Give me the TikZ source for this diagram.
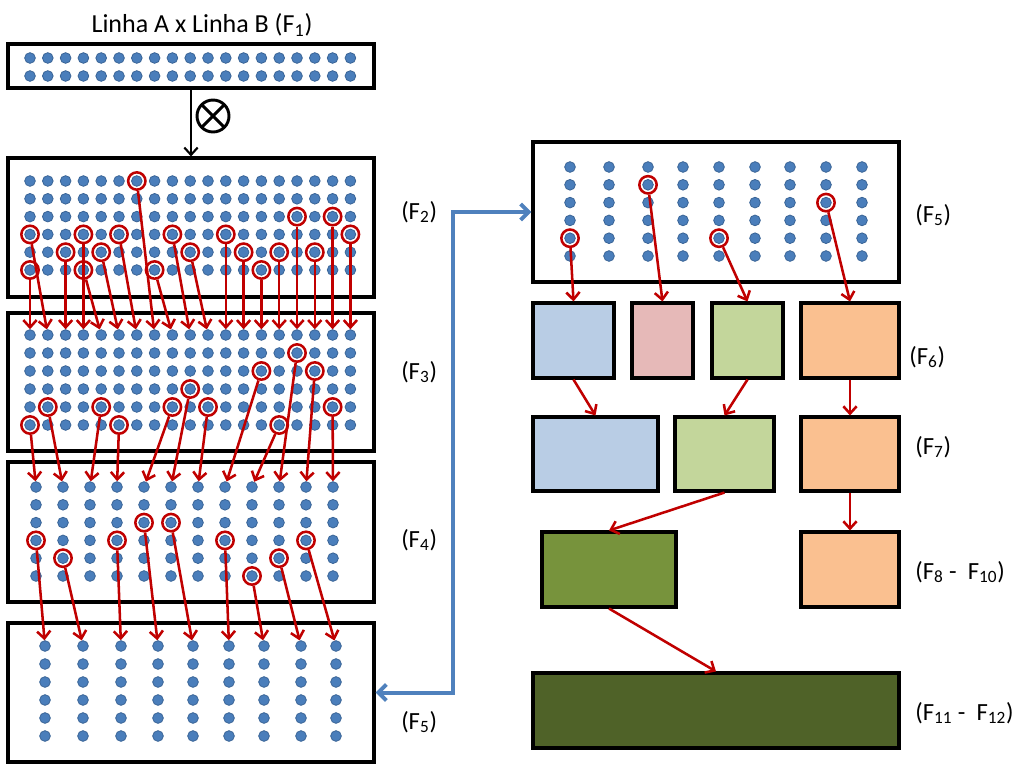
\documentclass[tikz,border=0pt]{standalone}
\usepackage{fontspec}
\setmainfont{Carlito}
\usetikzlibrary{arrows.meta,fit}
\definecolor{dotc}{HTML}{4A7EBB}
\definecolor{dotd}{HTML}{3A6496}
\definecolor{redc}{HTML}{C00000}
\definecolor{bluec}{HTML}{4F81BD}
\definecolor{cblue}{HTML}{B9CDE5}
\definecolor{cpink}{HTML}{E6B9B8}
\definecolor{cgreen}{HTML}{C3D69B}
\definecolor{corange}{HTML}{FAC090}
\definecolor{cdgreen}{HTML}{77933C}
\definecolor{cddgreen}{HTML}{4F6228}
\newcommand\sbs[1]{\textsubscript{#1}}
\begin{document}
\begin{tikzpicture}[x=0.75pt,y=-0.75pt,
  box/.style={draw=black,line width=2.3pt,inner sep=0pt},
  cbox/.style={draw=black,line width=2.3pt,inner sep=0pt},
  dot/.style={circle,fill=dotc,draw=dotd,line width=0.6pt,minimum size=8pt,inner sep=0pt},
  ring/.style={circle,draw=redc,line width=1.9pt,minimum size=13pt,inner sep=0pt},
  redarrow/.style={draw=redc,line width=1.9pt,-{Straight Barb[length=5.5pt,width=10pt]}},
  bluearrow/.style={draw=bluec,line width=3pt,{Straight Barb[length=6pt,width=12pt]}-{Straight Barb[length=6pt,width=12pt]}},
  lbl/.style={font=\fontsize{18.5}{20}\selectfont,inner sep=0pt,anchor=west}]
\useasboundingbox (0,0) rectangle (1021,771);
% ---------- boxes ----------
\node[box,fit={(8,44) (374,88)}] (f1) {};
\node[box,fit={(8,158) (374,297)}] (f2) {};
\node[box,fit={(8,313) (374,451)}] (f3) {};
\node[box,fit={(8,462) (374,602)}] (f4) {};
\node[box,fit={(8,623) (374,762)}] (f5l) {};
\node[box,fit={(533,142) (899,282)}] (r5) {};
% ---------- dots ----------
\foreach \c in {0,...,18} \foreach \r in {0,1} \node[dot] (a\c-\r) at ({30+17.8*\c},{58+18*\r}) {};
\foreach \c in {0,...,18} \foreach \r in {0,...,5} \node[dot] (b\c-\r) at ({30+17.8*\c},{181+17.8*\r}) {};
\foreach \c in {0,...,18} \foreach \r in {0,...,5} \node[dot] (c\c-\r) at ({30+17.8*\c},{335+18*\r}) {};
\foreach \c in {0,...,11} \foreach \r in {0,...,5} \node[dot] (d\c-\r) at ({36+27*\c},{487+17.8*\r}) {};
\foreach \x [count=\c from 0] in {45,83,121,158,193,229,264,301,336} \foreach \r in {0,...,5} \node[dot] (e\c-\r) at (\x,{646+18*\r}) {};
\foreach \x [count=\c from 0] in {570,609,648,683,719,755,790,826,862} \foreach \r in {0,...,5} \node[dot] (g\c-\r) at (\x,{167+17.8*\r}) {};
% ---------- rings ----------
\foreach \c/\r in {6/0,15/2,17/2,0/3,3/3,5/3,8/3,11/3,18/3,2/4,4/4,9/4,12/4,14/4,16/4,0/5,3/5,7/5,13/5} \node[ring] (rb\c-\r) at (b\c-\r) {};
\foreach \c/\r in {15/1,13/2,16/2,9/3,1/4,4/4,8/4,10/4,17/4,0/5,5/5,14/5} \node[ring] (rc\c-\r) at (c\c-\r) {};
\foreach \c/\r in {4/2,5/2,0/3,3/3,7/3,10/3,1/4,9/4,8/5} \node[ring] (rd\c-\r) at (d\c-\r) {};
\foreach \c/\r in {0/4,2/1,4/4,7/2} \node[ring] (rg\c-\r) at (g\c-\r) {};
% ---------- red arrows ----------
\foreach \c/\r/\t in {0/5/0,0/3/1,2/4/2,3/3/3,3/5/4,4/4/5,5/3/6,6/0/7,7/5/8,8/3/9,9/4/10,11/3/11,12/4/12,13/5/13,14/4/14,15/2/15,16/4/16,17/2/17,18/3/18}
  \draw[redarrow] (rb\c-\r) -- (c\t-0);
\foreach \c/\r/\t in {0/5/0,1/4/1,4/4/2,5/5/3,8/4/4,9/3/5,10/4/6,13/2/7,14/5/8,15/1/9,16/2/10,17/4/11}
  \draw[redarrow] (rc\c-\r) -- (d\t-0);
\foreach \c/\r/\t in {0/3/0,1/4/1,3/3/2,4/2/3,5/2/4,7/3/5,8/5/6,9/4/7,10/3/8}
  \draw[redarrow] (rd\c-\r) -- (e\t-0);
% ---------- coloured boxes ----------
\node[cbox,fill=cblue,fit={(533,303) (614,378)}] (b6) {};
\node[cbox,fill=cpink,fit={(632,303) (693,378)}] (p6) {};
\node[cbox,fill=cgreen,fit={(712,303) (783,378)}] (g6) {};
\node[cbox,fill=corange,fit={(801,303) (899,378)}] (o6) {};
\node[cbox,fill=cblue,fit={(533,417) (658,491)}] (b7) {};
\node[cbox,fill=cgreen,fit={(675,417) (774,491)}] (g7) {};
\node[cbox,fill=corange,fit={(801,417) (899,491)}] (o7) {};
\node[cbox,fill=cdgreen,fit={(542,532) (676,607)}] (dg8) {};
\node[cbox,fill=corange,fit={(801,532) (899,607)}] (o8) {};
\node[cbox,fill=cddgreen,fit={(533,673) (899,748)}] (f11) {};
\draw[redarrow] (rg0-4) -- (b6.north);
\draw[redarrow] (rg2-1) -- (p6.north);
\draw[redarrow] (rg4-4) -- (g6.north);
\draw[redarrow] (rg7-2) -- (o6.north);
\draw[redarrow] (b6.south) -- (b7.north);
\draw[redarrow] (g6.south) -- (g7.north);
\draw[redarrow] (o6.south) -- (o7.north);
\draw[redarrow] (g7.south) -- (dg8.north);
\draw[redarrow] (o7.south) -- (o8.north);
\draw[redarrow] (dg8.south) -- (f11.north);
% ---------- cross ----------
\draw[line width=1.6pt,-{Straight Barb[length=5.5pt,width=10pt]}] (f1.south) -- (f2.north);
\node[circle,draw,line width=2.2pt,minimum size=24pt,inner sep=0pt,outer sep=0pt] (ot) at (213,116) {};
\draw[line width=2.2pt] (ot.45) -- (ot.225) (ot.135) -- (ot.-45);
% ---------- blue connector ----------
\coordinate (j) at (453,450);
\draw[bluearrow] (f5l.east) -- (f5l.east -| j) -- (j |- r5.west) -- (r5.west);
% ---------- labels ----------
\node[font=\fontsize{19.5}{22}\selectfont,inner sep=0pt] (title) at (202,25) {Linha A x Linha B (F\sbs{1})};
\node[lbl] (l2) at (401,212) {(F\sbs{2})};
\node[lbl] (l3) at (401,372) {(F\sbs{3})};
\node[lbl] (l4) at (401,540) {(F\sbs{4})};
\node[lbl] (l5) at (401,722) {(F\sbs{5})};
\node[lbl] (r5l) at (915,215) {(F\sbs{5})};
\node[lbl] (r6l) at (909,357) {(F\sbs{6})};
\node[lbl] (r7l) at (915,447) {(F\sbs{7})};
\node[lbl] (r8l) at (915,572) {(F\sbs{8} -\ \ F\sbs{10})};
\node[lbl] (r11l) at (915,713) {(F\sbs{11} -\ \ F\sbs{12})};
\end{tikzpicture}
\end{document}
